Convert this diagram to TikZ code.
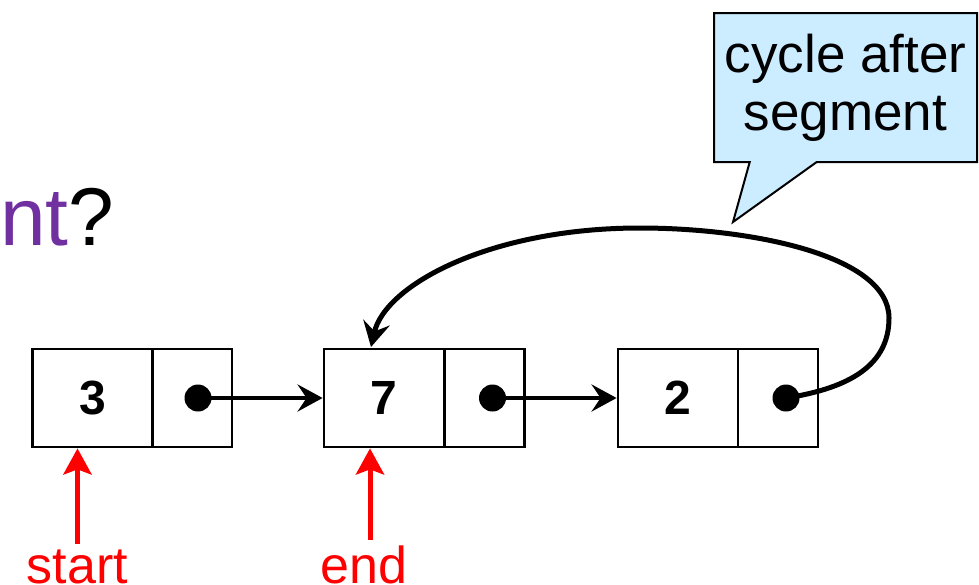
\documentclass[tikz,border=0pt]{standalone}
\usepackage{fontspec}
\setmainfont{Liberation Sans}
\usetikzlibrary{arrows.meta,shapes.callouts}
\definecolor{callblue}{RGB}{204,236,255}
\definecolor{titlepurple}{RGB}{112,48,160}
\tikzset{
  cell/.style={draw, line width=2.8pt, minimum height=98pt, inner sep=0pt},
  valcell/.style={cell, minimum width=120pt, font=\fontsize{48}{50}\selectfont\bfseries},
  ptrcell/.style={cell, minimum width=80pt},
  dot/.style={circle, fill=black, minimum size=27pt, inner sep=0pt},
  link/.style={line width=4.5pt, -{Stealth[length=25pt,width=27pt,inset=9pt]}},
  ptrarrow/.style={draw=red, line width=5pt, -{Stealth[length=26pt,width=28pt,inset=5pt]}},
  ptrlabel/.style={text=red, inner sep=0pt, font=\fontsize{52}{54}\selectfont},
}
\begin{document}
\begin{tikzpicture}[x=1pt,y=-1pt]
\useasboundingbox (0,0) rectangle (979,584);
% title fragment
\node[anchor=base west, inner sep=0pt, font=\fontsize{82}{86}\selectfont] (title) at (0,245) {\textcolor{titlepurple}{nt}?};
% list nodes
\node[valcell] (v1) at (92.5,398) {3};
\node[ptrcell] (p1) at (192,398) {};
\node[valcell] (v2) at (384,398) {7};
\node[ptrcell] (p2) at (484.5,398) {};
\node[valcell] (v3) at (678,398) {2};
\node[ptrcell] (p3) at (778,398) {};
\node[dot] (d1) at ([xshift=6pt]p1.center) {};
\node[dot] (d2) at ([xshift=8pt]p2.center) {};
\node[dot] (d3) at ([xshift=8pt]p3.center) {};
\draw[link] (d1.center) -- (v2.west);
\draw[link] (d2.center) -- (v3.west);
% cycle back
\coordinate (ctip) at (371,347);
\draw[line width=5pt, -{Stealth[length=25pt,width=27pt,inset=9pt]}]
  (d3.center) .. controls (850,388) and (889,365) .. (889,318)
  .. controls (889,255) and (750,228) .. (640,228)
  .. controls (490,228) and (385,285) .. (ctip);
% start / end pointers
\node[ptrlabel, anchor=base] (lstart) at (77.5,583) {start};
\node[ptrlabel, anchor=base] (lend) at (364,583) {end};
\draw[ptrarrow] ([yshift=5pt]lstart.north) -- (lstart.north |- v1.south);
\draw[ptrarrow] ([xshift=6pt,yshift=5pt]lend.north) -- ([xshift=6pt]lend.north |- v2.south);
% callout
\node[rectangle callout, draw, line width=2pt, fill=callblue,
      minimum width=263pt, minimum height=149pt, inner sep=0pt,
      align=center, font=\fontsize{53}{58}\selectfont,
      callout absolute pointer={(733,222)}, callout pointer width=67pt]
  (note) at (845.5,87.5) {cycle after\\segment};
\end{tikzpicture}
\end{document}
